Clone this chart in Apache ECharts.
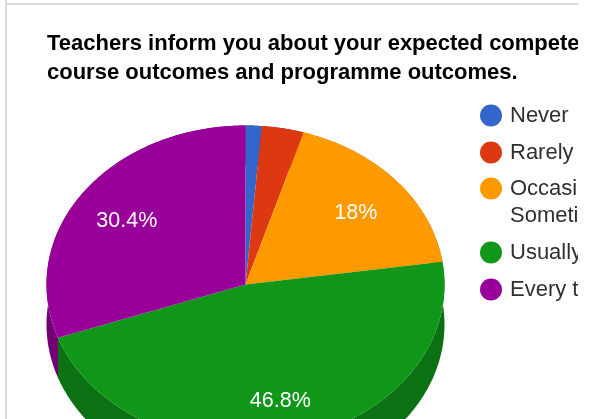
<!DOCTYPE html>
<html>
<head>
<meta charset="utf-8">
<style>
  html, body { margin: 0; padding: 0; background: #fff; }
  #main { width: 578px; height: 419px; overflow: hidden; }
</style>
<script src="https://cdn.jsdelivr.net/npm/echarts@6/dist/echarts.min.js"></script>
</head>
<body>
<div id="main"></div>
<script>
var categories = ['Never', 'Rarely', 'Occasionally/\nSometimes', 'Usually', 'Every time'];
var values = [1.3, 3.4, 18, 46.8, 30.4];
var colors = ['#3366cc', '#dc3912', '#ff9900', '#109618', '#990099'];
var wallColors = ['#264d99', '#a52b0e', '#bf7300', '#0c7112', '#730073'];
var titleText = 'Teachers inform you about your expected competencies,\ncourse outcomes and programme outcomes.';

// the pie is tilted, so draw it as an ellipse with a side wall
var cx = 245.5, cy = 284.5, rx = 199, ry = 159, depth = 40;
var total = values.reduce(function(a, b) { return a + b; }, 0);

function angleAt(sum) {
  return sum / total * Math.PI * 2;
}

function arcPoints(from, to, dy) {
  var pts = [];
  var n = Math.max(2, Math.ceil((to - from) / 0.01));
  for (var i = 0; i <= n; i++) {
    var a = from + (to - from) * i / n;
    pts.push([cx + rx * Math.sin(a), cy + dy - ry * Math.cos(a)]);
  }
  return pts;
}

function sliceRange(index) {
  var start = 0;
  for (var i = 0; i < index; i++) start += values[i];
  return [angleAt(start), angleAt(start + values[index])];
}

function renderWall(params, api) {
  var r = sliceRange(params.dataIndex);
  var top = arcPoints(r[0], r[1], 0);
  var bottom = arcPoints(r[0], r[1], depth).reverse();
  return {
    type: 'polygon',
    shape: { points: top.concat(bottom) },
    style: { fill: wallColors[params.dataIndex] }
  };
}

function renderTop(index) {
  return function(params, api) {
    var r = sliceRange(index);
    var val = api.value(0);
    var mid = (r[0] + r[1]) / 2;
    var children = [{
      type: 'polygon',
      shape: { points: [[cx, cy]].concat(arcPoints(r[0], r[1], 0)) },
      style: { fill: colors[index] }
    }];
    if (val >= 5) {
      children.push({
        type: 'text',
        x: cx + rx * 0.73 * Math.sin(mid),
        y: cy + 4 - ry * 0.73 * Math.cos(mid),
        style: {
          text: val + '%',
          fill: '#fff',
          font: '21.5px "Liberation Sans", Arial, sans-serif',
          align: 'center',
          verticalAlign: 'middle'
        }
      });
    }
    return { type: 'group', children: children };
  };
}

var series = [{
  type: 'custom',
  name: 'wall',
  coordinateSystem: 'none',
  z: 1,
  silent: true,
  renderItem: renderWall,
  data: values
}];
for (var i = 0; i < categories.length; i++) {
  series.push({
    type: 'custom',
    name: categories[i],
    coordinateSystem: 'none',
    z: 2,
    silent: true,
    itemStyle: { color: colors[i] },
    renderItem: renderTop(i),
    data: [values[i]]
  });
}

// legend is split in three so the wrapped item keeps its marker on the first line
function legendBlock(names, top, nameFormat) {
  return {
    orient: 'vertical',
    left: 480,
    top: top,
    padding: 0,
    icon: 'circle',
    itemWidth: 22,
    itemHeight: 22,
    itemGap: 10,
    selectedMode: false,
    data: names,
    formatter: nameFormat,
    textStyle: {
      fontFamily: '"Liberation Sans", Arial, sans-serif',
      fontSize: 22,
      color: '#303030',
      lineHeight: 27,
      padding: [0, 0, 0, 3]
    }
  };
}

var chart = echarts.init(document.getElementById('main'), null, { width: 578, height: 419, renderer: 'canvas' });
chart.setOption({
  animation: false,
  backgroundColor: '#fff',
  title: {
    text: titleText,
    left: 47,
    top: 29,
    padding: 0,
    textStyle: {
      fontFamily: '"Liberation Sans", Arial, sans-serif',
      fontSize: 22,
      fontWeight: 'bold',
      color: '#000',
      lineHeight: 29
    }
  },
  legend: [
    legendBlock(categories.slice(0, 2), 102, '{name}'),
    // blank first line puts the marker level with "Occasionally/"
    legendBlock(categories.slice(2, 3), 148, '\n{name}'),
    legendBlock(categories.slice(3), 239, '{name}')
  ],
  graphic: [
    { type: 'rect', shape: { x: 5, y: 0, width: 2, height: 419 }, style: { fill: '#dcdcdc' }, silent: true },
    { type: 'rect', shape: { x: 5, y: 3, width: 573, height: 2 }, style: { fill: '#dcdcdc' }, silent: true }
  ],
  series: series
});
</script>
</body>
</html>
